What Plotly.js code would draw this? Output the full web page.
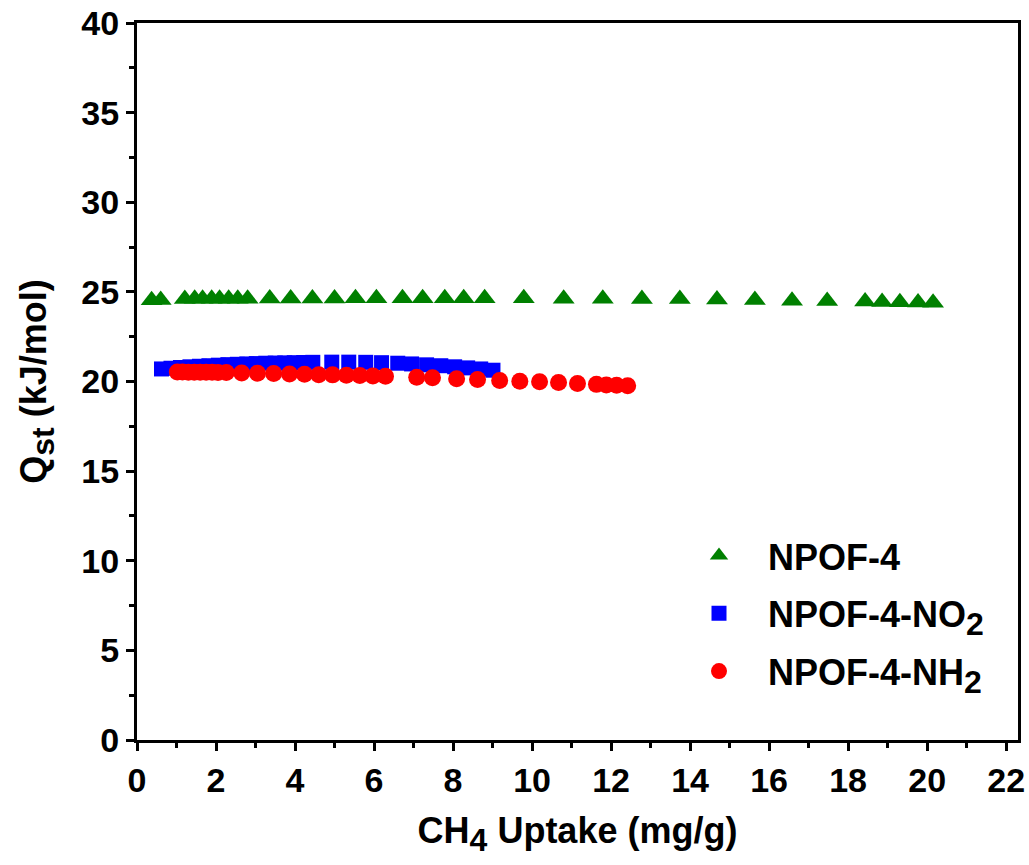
<!DOCTYPE html>
<html>
<head>
<meta charset="utf-8">
<script src="https://cdn.plot.ly/plotly-3.0.1.min.js"></script>
<style>html,body{margin:0;padding:0;background:#fff;}#chart{width:1029px;height:865px;}</style>
</head>
<body>
<div id="chart"></div>
<script>
// NPOF-4 (green triangles)
var npof4_x = [0.37, 0.60, 1.21, 1.46, 1.66, 1.89, 2.09, 2.32, 2.55, 2.80, 3.36, 3.89, 4.44, 5.00, 5.53, 6.06, 6.72, 7.23, 7.79, 8.27, 8.80, 9.79, 10.80, 11.79, 12.78, 13.74, 14.68, 15.64, 16.58, 17.47, 18.43, 18.86, 19.31, 19.77, 20.15];
var npof4_y = [24.53, 24.54, 24.60, 24.61, 24.61, 24.62, 24.62, 24.62, 24.62, 24.62, 24.63, 24.63, 24.63, 24.63, 24.64, 24.64, 24.64, 24.64, 24.64, 24.64, 24.64, 24.65, 24.62, 24.62, 24.60, 24.60, 24.57, 24.55, 24.51, 24.49, 24.46, 24.44, 24.42, 24.41, 24.39];
// NPOF-4-NO2 (blue squares)
var no2_x = [0.62, 0.86, 1.10, 1.34, 1.58, 1.82, 2.06, 2.30, 2.54, 2.78, 3.02, 3.26, 3.50, 3.74, 3.98, 4.22, 4.45, 4.93, 5.36, 5.79, 6.19, 6.60, 6.95, 7.33, 7.69, 8.04, 8.37, 8.70, 9.01];
var no2_y = [20.70, 20.74, 20.78, 20.82, 20.85, 20.88, 20.91, 20.94, 20.96, 20.98, 21.00, 21.02, 21.03, 21.04, 21.05, 21.06, 21.07, 21.08, 21.08, 21.07, 21.05, 21.02, 20.98, 20.93, 20.88, 20.82, 20.76, 20.70, 20.63];
// NPOF-4-NH2 (red circles)
var nh2_x = [1.02, 1.15, 1.30, 1.45, 1.60, 1.75, 1.90, 2.05, 2.26, 2.65, 3.05, 3.46, 3.86, 4.24, 4.60, 4.95, 5.30, 5.64, 5.97, 6.29, 7.08, 7.48, 8.09, 8.62, 9.18, 9.69, 10.19, 10.67, 11.15, 11.63, 11.88, 12.14, 12.42];
var nh2_y = [20.53, 20.53, 20.52, 20.52, 20.52, 20.51, 20.51, 20.50, 20.50, 20.48, 20.46, 20.44, 20.42, 20.40, 20.38, 20.37, 20.35, 20.33, 20.31, 20.29, 20.24, 20.21, 20.15, 20.11, 20.06, 20.02, 19.98, 19.94, 19.89, 19.84, 19.81, 19.79, 19.76];

var xTickVals = [0, 2, 4, 6, 8, 10, 12, 14, 16, 18, 20, 22];
var yTickVals = [0, 5, 10, 15, 20, 25, 30, 35, 40];

var FONT = 'Arial, "Liberation Sans", sans-serif';
var SUB = '<span style="font-size:32px">';

var traces = [
  {x: npof4_x, y: npof4_y, name: 'NPOF-4', mode: 'markers', type: 'scatter', legendgroup: 'a',
   marker: {symbol: 'triangle-up', size: 19, color: '#008000'}},
  {x: no2_x, y: no2_y, name: 'NPOF-4-NO<sub>' + SUB + '2</span></sub>', mode: 'markers', type: 'scatter', legendgroup: 'b',
   marker: {symbol: 'square', size: 15, color: '#0000ff'}},
  {x: nh2_x, y: nh2_y, name: 'NPOF-4-NH<sub>' + SUB + '2</span></sub>', mode: 'markers', type: 'scatter', legendgroup: 'c',
   marker: {symbol: 'circle', size: 17, color: '#ff0000'}}
];

var axisCommon = {
  showline: true, linewidth: 3, linecolor: '#000', mirror: true,
  ticks: 'outside', ticklen: 8, tickwidth: 3, tickcolor: '#000',
  showgrid: false, zeroline: false,
  tickfont: {family: FONT, size: 34, color: '#000', weight: 'bold'}
};

var layout = {
  width: 1029, height: 865,
  margin: {l: 137, r: 11, t: 23, b: 125},
  paper_bgcolor: '#fff', plot_bgcolor: '#fff',
  showlegend: true,
  legend: {x: 0.605, y: 0.299, xanchor: 'left', yanchor: 'top', bgcolor: 'rgba(0,0,0,0)',
    font: {family: FONT, size: 36, color: '#000', weight: 'bold'},
    itemwidth: 88, tracegroupgap: 8},
  xaxis: Object.assign({}, axisCommon, {
    range: [0, 22.3], tickmode: 'array', tickvals: xTickVals,
    minor: {dtick: 1, ticklen: 5, tickwidth: 3, tickcolor: '#000', ticks: 'outside'},
    title: {text: 'CH<sub>' + SUB + '4</span></sub> Uptake (mg/g)', font: {family: FONT, size: 36, color: '#000', weight: 'bold'}, standoff: 21}
  }),
  yaxis: Object.assign({}, axisCommon, {
    range: [0, 40], tickmode: 'array', tickvals: yTickVals,
    minor: {dtick: 2.5, ticklen: 5, tickwidth: 3, tickcolor: '#000', ticks: 'outside'},
    title: {text: 'Q<sub>' + SUB + 'st</span></sub> (kJ/mol)', font: {family: FONT, size: 36, color: '#000', weight: 'bold'}, standoff: 24}
  })
};

Plotly.newPlot('chart', traces, layout, {displayModeBar: false, staticPlot: true});
</script>
</body>
</html>
